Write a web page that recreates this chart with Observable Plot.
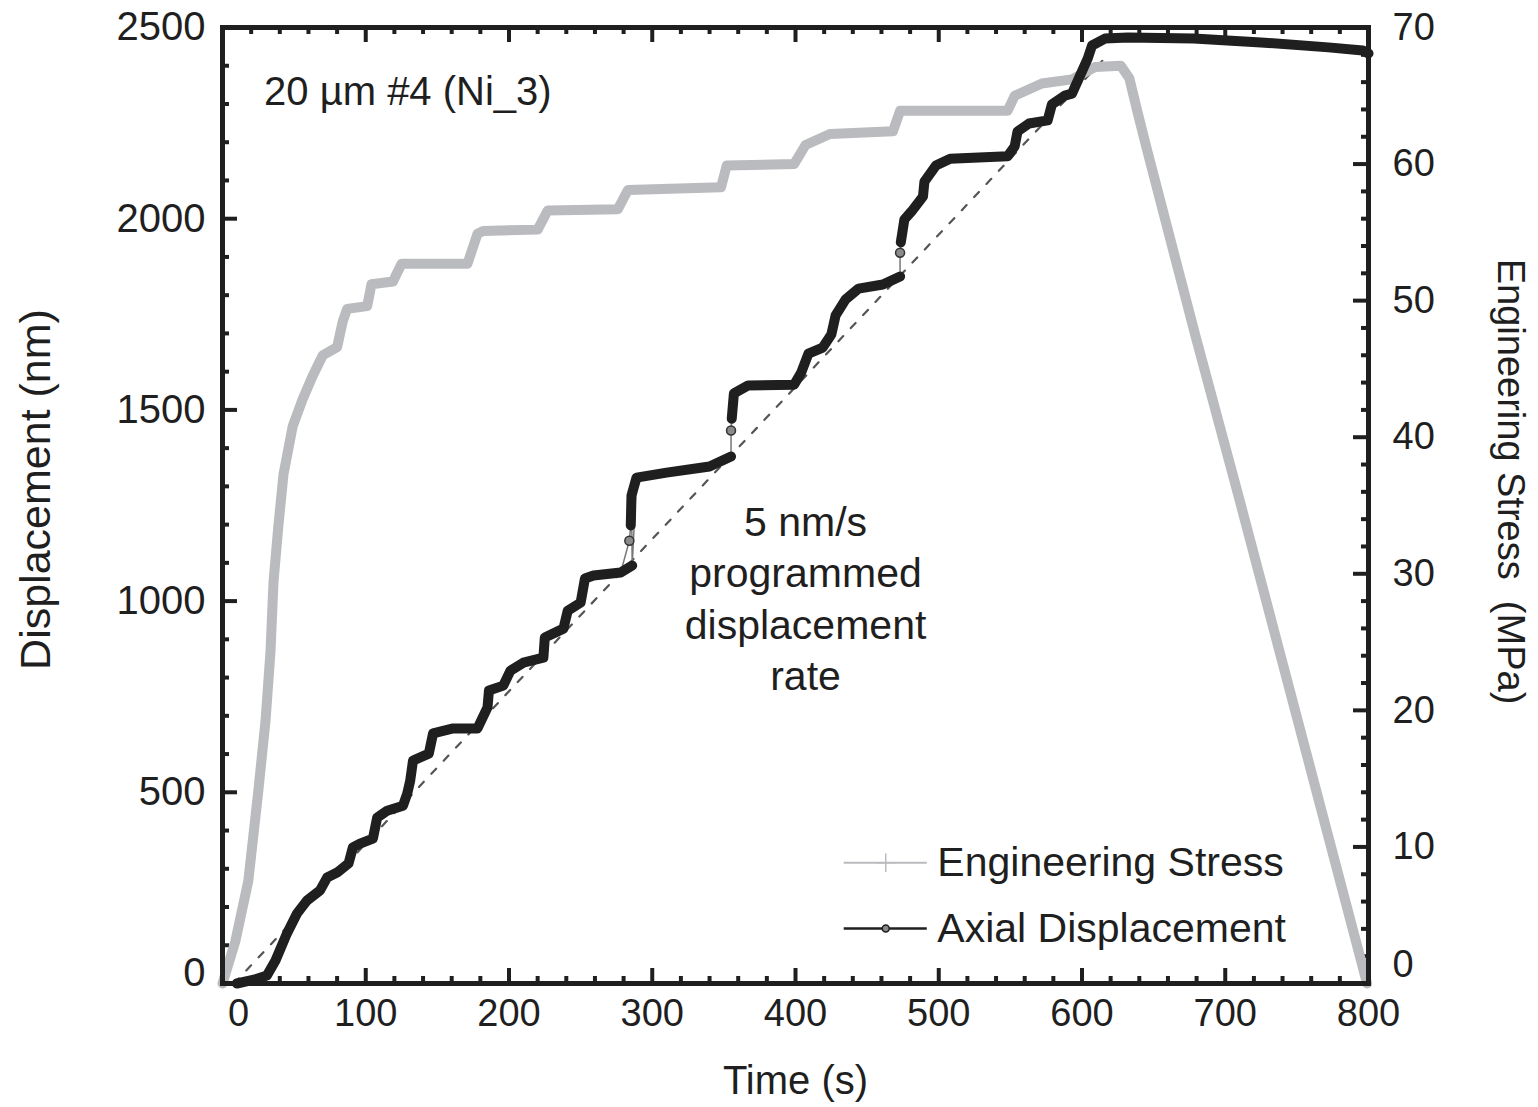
<!DOCTYPE html>
<html><head><meta charset="utf-8">
<script src="https://cdn.jsdelivr.net/npm/d3@7"></script>
<script src="https://cdn.jsdelivr.net/npm/@observablehq/plot@0.6"></script>
<style>
html,body{margin:0;padding:0;background:#fff;}
#chart svg{display:block;}
</style></head><body><div id="chart"></div>
<script>
// ---- data ----
const stressTime = [0, 9, 18, 25, 30, 33.5, 35.6, 39, 42.6, 49, 56, 63, 70, 80, 84, 87, 101, 104, 119, 125, 171, 178, 182, 220, 227, 276, 283, 348, 352, 399, 407, 424, 468, 473, 548, 553, 572, 593, 609, 627, 633, 639, 646, 679, 710, 750, 799];
const stressMPa  = [0, 3.1, 7.5, 14.1, 19.2, 24.3, 29.4, 33.5, 37.3, 40.8, 42.8, 44.5, 46.0, 46.6, 48.5, 49.4, 49.6, 51.2, 51.4, 52.7, 52.7, 54.9, 55.1, 55.2, 56.6, 56.7, 58.1, 58.3, 59.9, 60.0, 61.4, 62.2, 62.4, 63.9, 63.9, 65.0, 65.9, 66.2, 67.1, 67.2, 66.3, 63.7, 60.8, 47.5, 35.4, 19.5, 0];

const dispTime = [10, 22, 31, 37, 45, 52, 59, 68, 73, 80, 88, 91, 96, 105, 108, 115, 126, 129, 131, 133, 144, 147, 161, 178, 185, 186, 196, 201, 210, 224, 225, 238, 241, 250, 253, 259, 278, 286,
  285, 285.5, 289, 310, 340, 355,
  355.5, 357, 367, 399, 404, 409, 419, 425, 428, 435, 444, 461, 473,
  473.5, 476, 481, 489, 490, 498, 508, 548, 553, 555, 563, 576, 579, 588, 593, 604, 607, 616, 632, 678, 725, 772, 796, 800];
const dispNm = [0, 10, 21, 60, 131, 183, 217, 243, 277, 290, 314, 356, 366, 379, 434, 452, 465, 497, 530, 583, 601, 654, 667, 667, 722, 766, 779, 818, 839, 852, 905, 928, 975, 996, 1059, 1067, 1075, 1093,
  1198, 1276, 1323, 1336, 1352, 1378,
  1477, 1543, 1564, 1566, 1598, 1647, 1663, 1697, 1747, 1789, 1817, 1828, 1849,
  1938, 1998, 2019, 2058, 2097, 2139, 2157, 2163, 2189, 2228, 2249, 2257, 2299, 2322, 2327, 2419, 2453, 2471, 2474, 2471, 2461, 2448, 2440, 2432];
const dispSegment = [0,0,0,0,0,0,0,0,0,0,0,0,0,0,0,0,0,0,0,0,0,0,0,0,0,0,0,0,0,0,0,0,0,0,0,0,0,0,
  1,1,1,1,1,1,
  2,2,2,2,2,2,2,2,2,2,2,2,2,
  3,3,3,3,3,3,3,3,3,3,3,3,3,3,3,3,3,3,3,3,3,3,3,3];
const jumpTime = [284, 355, 473];
const jumpNm = [1158, 1446, 1911];

const rateTime = [8, 618];
const rateNm = [0, 2428];

const xMajorTicks = [0, 100, 200, 300, 400, 500, 600, 700, 800];
const yMajorTicks = [0, 500, 1000, 1500, 2000, 2500];
const stressMajorTicks = [0, 10, 20, 30, 40, 50, 60, 70];

const legendLabels = ["Engineering Stress", "Axial Displacement"];
const legendNm = [316, 144];
const legendLineStart = 434, legendLineEnd = 492, legendMarkerTime = 463, legendTextTime = 499;

const sampleLabel = "20 µm #4 (Ni_3)";
const rateLabel = "5 nm/s\nprogrammed\ndisplacement\nrate";

// ---- build tables ----
const NM_PER_MPA = 2500 / 70;
const stress = stressTime.map((t, i) => ({t, y: stressMPa[i] * NM_PER_MPA}));
const disp = dispTime.map((t, i) => ({t, y: dispNm[i], seg: dispSegment[i]}));
const jumps = jumpTime.map((t, i) => ({t, y: jumpNm[i], seg: 0.5}));
const all = disp.concat(jumps).sort((a, b) => a.t - b.t || a.y - b.y);
const rate = rateTime.map((t, i) => ({t, y: rateNm[i]}));
const xMinor = d3.range(0, 801, 20).filter(d => d % 100 !== 0);
const yMinor = d3.range(0, 2501, 100).filter(d => d % 500 !== 0);
const sMinor = d3.range(0, 71, 2).filter(d => d % 10 !== 0).map(s => s * NM_PER_MPA);
const sMajor = stressMajorTicks.map(s => s * NM_PER_MPA);

const W = 1538, H = 1107, mL = 222, mR = 170, mT = 27, mB = 124;
const iW = W - mL - mR, iH = H - mT - mB;
const INK = "#1f1f1f", GRAY = "#babbbe";
const majorLen = 15, minorLen = 7;
const fmt = d => String(d);

const chart = Plot.plot({
  width: W, height: H,
  marginLeft: mL, marginRight: mR, marginTop: mT, marginBottom: mB,
  x: {domain: [0, 800], axis: null},
  y: {domain: [0, 2500], axis: null},
  style: {fontFamily: "'Liberation Sans', Arial, Helvetica, sans-serif", background: "#fff", color: INK},
  marks: [
    // ticks (inward)
    Plot.tickX(xMajorTicks, {x: d => d, insetTop: iH - majorLen, stroke: INK, strokeWidth: 4}),
    Plot.tickX(xMajorTicks, {x: d => d, insetBottom: iH - majorLen, stroke: INK, strokeWidth: 4}),
    Plot.tickX(xMinor, {x: d => d, insetTop: iH - minorLen, stroke: INK, strokeWidth: 4}),
    Plot.tickX(xMinor, {x: d => d, insetBottom: iH - minorLen, stroke: INK, strokeWidth: 4}),
    Plot.tickY(yMajorTicks, {y: d => d, insetRight: iW - majorLen, stroke: INK, strokeWidth: 4}),
    Plot.tickY(yMinor, {y: d => d, insetRight: iW - minorLen, stroke: INK, strokeWidth: 4}),
    Plot.tickY(sMajor, {y: d => d, insetLeft: iW - majorLen, stroke: INK, strokeWidth: 4}),
    Plot.tickY(sMinor, {y: d => d, insetLeft: iW - minorLen, stroke: INK, strokeWidth: 4}),
    // tick labels
    Plot.axisX(xMajorTicks.filter(d => d > 0), {anchor: "bottom", tickSize: 0, tickPadding: 16, fontSize: 38, label: null, tickFormat: fmt}),
    Plot.text([0], {x: d => d, frameAnchor: "bottom", lineAnchor: "top", dy: 16, dx: 16, fontSize: 38, text: fmt}),
    Plot.axisY(yMajorTicks.filter(d => d > 0), {anchor: "left", tickSize: 0, tickPadding: 17, fontSize: 40, label: null, tickFormat: fmt}),
    Plot.text([0], {y: d => d, frameAnchor: "left", textAnchor: "end", dx: -17, dy: -10, fontSize: 40, text: fmt}),
    Plot.axisY(sMajor.filter(d => d > 0), {anchor: "right", tickSize: 0, tickPadding: 24, fontSize: 38, label: null, tickFormat: d => String(Math.round(d / NM_PER_MPA))}),
    Plot.text([0], {y: d => d, frameAnchor: "right", textAnchor: "start", dx: 24, dy: -19, fontSize: 38, text: fmt}),
    // axis titles
    Plot.text(["Time (s)"], {frameAnchor: "bottom", textAnchor: "middle", lineAnchor: "middle", dy: 98, fontSize: 40}),
    Plot.text(["Displacement (nm)"], {frameAnchor: "left", textAnchor: "middle", dx: -186, dy: -16, rotate: -90, fontSize: 43}),
    Plot.text(["Engineering Stress  (MPa)"], {frameAnchor: "right", textAnchor: "middle", dx: 142, dy: -24, rotate: 90, fontSize: 38}),
    // data
    Plot.line(rate, {x: "t", y: "y", stroke: "#555", strokeWidth: 2.2, strokeDasharray: "7,11"}),
    Plot.line(stress, {x: "t", y: "y", stroke: GRAY, strokeWidth: 10, strokeLinejoin: "round", strokeLinecap: "round"}),
    Plot.line(all, {x: "t", y: "y", stroke: "#777", strokeWidth: 1.5}),
    Plot.line(disp, {x: "t", y: "y", z: "seg", stroke: INK, strokeWidth: 10, strokeLinejoin: "round", strokeLinecap: "round"}),
    Plot.dot(jumps, {x: "t", y: "y", r: 4.5, fill: "#8a8a8a", stroke: "#333", strokeWidth: 1.5}),
    // annotations
    Plot.text([sampleLabel], {x: 29, y: 2330, textAnchor: "start", fontSize: 40}),
    Plot.text([rateLabel], {x: 407, y: 1012, textAnchor: "middle", lineHeight: 1.25, fontSize: 41}),
    // legend
    Plot.ruleY([legendNm[0]], {x1: legendLineStart, x2: legendLineEnd, stroke: GRAY, strokeWidth: 2}),
    Plot.ruleY([legendNm[1]], {x1: legendLineStart, x2: legendLineEnd, stroke: INK, strokeWidth: 2.5}),
    Plot.dot([legendNm[0]], {x: legendMarkerTime, y: d => d, symbol: "plus", r: 6, stroke: GRAY, strokeWidth: 1.5}),
    Plot.dot([legendNm[1]], {x: legendMarkerTime, y: d => d, r: 3.5, fill: "#888", stroke: INK, strokeWidth: 1.5}),
    Plot.text(legendLabels, {x: legendTextTime, y: (d, i) => legendNm[i], textAnchor: "start", fontSize: 41}),
    Plot.frame({stroke: INK, strokeWidth: 5})
  ]
});
document.getElementById("chart").appendChild(chart);
</script></body></html>
